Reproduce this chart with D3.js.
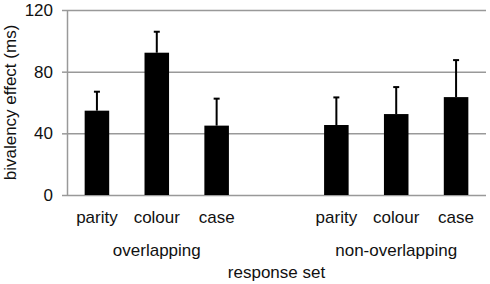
<html>

<head>
    <script src="https://d3js.org/d3.v7.min.js"></script>
    <style>
        body { margin: 0; background: #fff; }
        text { font-family: "Liberation Sans", Arial, sans-serif; font-size: 17px; fill: #111; }
        .gridlines line { stroke: #999; stroke-width: 1.5; }
        .gridlines .domain { stroke: none; }
    </style>
</head>

<body>
    <svg id="chart" width="490" height="284"></svg>
    <script>
        // slots along the x axis (one empty slot between the two groups)
        const slots = ["o-parity", "o-colour", "o-case", "gap", "n-parity", "n-colour", "n-case"];
        const conditions = ["parity", "colour", "case"];
        const groups = ["overlapping", "non-overlapping"];
        const overlapping = [54.7, 92.3, 45];
        const overlappingErr = [12.3, 13.6, 17.5];
        const nonOverlapping = [45.4, 52.5, 63.5];
        const nonOverlappingErr = [17.9, 17.5, 24];
        const yTicks = [0, 40, 80, 120];

        const svg = d3.select("#chart");
        const margins = { top: 10, right: 4, bottom: 89, left: 67 };
        const chartWidth = 490 - margins.left - margins.right;
        const chartHeight = 284 - margins.top - margins.bottom;

        const x = d3.scaleBand().domain(slots).range([0, chartWidth]).paddingInner(0.59).paddingOuter(0.295);
        const y = d3.scaleLinear().domain([0, 120]).range([chartHeight, 0]);

        const g = svg.append("g")
            .attr("transform", "translate(" + margins.left + "," + margins.top + ")");

        // gridlines
        g.append("g")
            .attr("class", "gridlines")
            .call(d3.axisLeft(y).tickValues(yTicks).tickSize(-chartWidth).tickFormat(""));

        // y axis with short outer ticks
        const yAxis = g.append("g")
            .call(d3.axisLeft(y).tickValues(yTicks).tickSize(5).tickPadding(9).tickSizeOuter(0));
        yAxis.selectAll("line, path").attr("stroke", "#999").attr("stroke-width", 1.5);
        yAxis.selectAll("text").attr("font-size", 17).attr("font-family", "Liberation Sans, Arial, sans-serif").attr("fill", "#111");

        const data = [];
        conditions.forEach((c, i) => {
            data.push({ slot: "o-" + c, label: c, value: overlapping[i], err: overlappingErr[i] });
            data.push({ slot: "n-" + c, label: c, value: nonOverlapping[i], err: nonOverlappingErr[i] });
        });

        // error bars (upper only)
        data.forEach(d => {
            const cx = x(d.slot) + x.bandwidth() / 2;
            g.append("line")
                .attr("x1", cx).attr("x2", cx)
                .attr("y1", y(d.value)).attr("y2", y(d.value + d.err))
                .attr("stroke", "#000").attr("stroke-width", 2);
            g.append("line")
                .attr("x1", cx - 3).attr("x2", cx + 3)
                .attr("y1", y(d.value + d.err)).attr("y2", y(d.value + d.err))
                .attr("stroke", "#000").attr("stroke-width", 2);
        });

        // bars
        g.selectAll("rect.bar").data(data).join("rect")
            .attr("class", "bar")
            .attr("x", d => x(d.slot))
            .attr("width", x.bandwidth())
            .attr("y", d => y(d.value))
            .attr("height", d => chartHeight - y(d.value))
            .attr("fill", "#000");

        // condition labels
        g.selectAll("text.cond").data(data).join("text")
            .attr("class", "cond")
            .attr("x", d => x(d.slot) + x.bandwidth() / 2)
            .attr("y", chartHeight + 28)
            .attr("text-anchor", "middle")
            .text(d => d.label);

        // group labels
        groups.forEach((name, i) => {
            const mid = i === 0 ? "o-colour" : "n-colour";
            g.append("text")
                .attr("x", x(mid) + x.bandwidth() / 2)
                .attr("y", chartHeight + 61)
                .attr("text-anchor", "middle")
                .text(name);
        });

        g.append("text")
            .attr("x", chartWidth / 2)
            .attr("y", chartHeight + 83)
            .attr("text-anchor", "middle")
            .text("response set");

        svg.append("text")
            .attr("transform", "translate(16," + (margins.top + chartHeight / 2) + ") rotate(-90)")
            .attr("text-anchor", "middle")
            .text("bivalency effect (ms)");
    </script>
</body>

</html>
